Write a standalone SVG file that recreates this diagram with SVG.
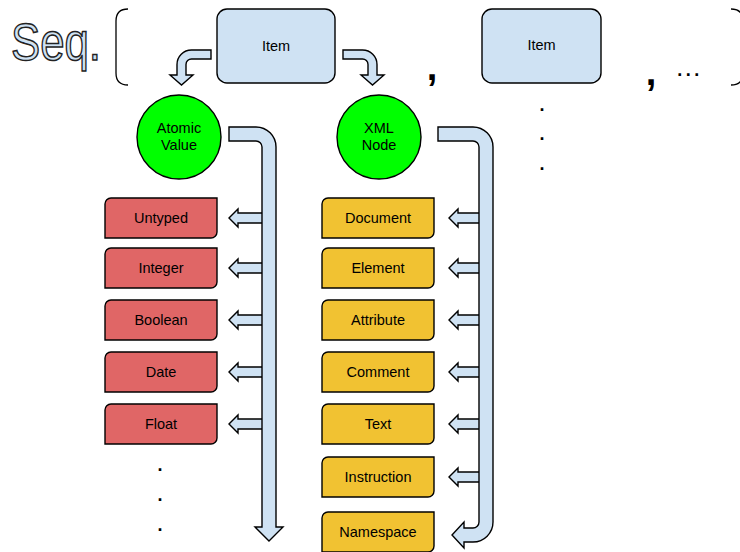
<svg xmlns="http://www.w3.org/2000/svg" xmlns:xlink="http://www.w3.org/1999/xlink" width="740" height="552" viewBox="0 0 740 552">
  <style>
    text { font-family: "Liberation Sans", Arial, sans-serif; fill: #000; }
    .lbl { font-size: 14.5px; text-anchor: middle; }
    .item { fill: #cfe2f3; stroke: #000; stroke-width: 1.4; }
    .circ { fill: #00ff00; stroke: #000; stroke-width: 1.4; }
    .red { fill: #e06666; stroke: #000; stroke-width: 1.4; }
    .yel { fill: #f1c232; stroke: #000; stroke-width: 1.4; }
    .arrow { fill: #cfe2f3; stroke: #000; stroke-width: 1.4; stroke-linejoin: miter; }
    .brace { fill: none; stroke: #000; stroke-width: 1.3; }
    .seq { font-size: 51px; fill: #cfe2f3; stroke: #222; stroke-width: 1.5; }
    .comma { font-size: 38px; font-weight: bold; text-anchor: middle; }
    .dot { font-size: 18px; font-weight: bold; text-anchor: middle; }
  </style>
  <defs>
    <!-- rectangle with rounded top-left and bottom-right corners -->
    <path id="box" d="M6,0 H112 V34 A6,6 0 0 1 106,40 H0 V6 A6,6 0 0 1 6,0 Z"/>
    <!-- short left-pointing arrows, tip at origin -->
    <path id="arrL" d="M0,0 L9,-9 V-5 H34 V5 H9 V9 Z"/>
    <path id="arrR" d="M0,0 L9,-9 V-5 H31 V5 H9 V9 Z"/>
  </defs>

  <!-- sequence label and brackets -->
  <text class="seq" x="11" y="60" textLength="90" lengthAdjust="spacingAndGlyphs">Seq.</text>
  <path class="brace" d="M128,9 Q116,9 116,21 V73 Q116,85 128,85"/>
  <path class="brace" d="M731,9 Q743,9 743,21 V73 Q743,85 731,85"/>
  <text class="comma" x="432" y="80">,</text>
  <text class="comma" x="651" y="85">,</text>
  <text class="dot" x="690" y="76" letter-spacing="3.5">...</text>
  <text class="dot" x="542" y="111">.</text>
  <text class="dot" x="542" y="140">.</text>
  <text class="dot" x="542" y="170">.</text>
  <text class="dot" x="160" y="471">.</text>
  <text class="dot" x="160" y="501">.</text>
  <text class="dot" x="160" y="531">.</text>

  <!-- connectors -->
  <g id="connectors">
    <path class="arrow" d="M211,50 H191.5 A14.5,14.5 0 0 0 177,64.5 V75 H170 L181.5,85 L193,75 H186 V64.5 A5.5,5.5 0 0 1 191.5,59 H211 Z"/>
    <path class="arrow" d="M343,50 H362.5 A14.5,14.5 0 0 1 377,64.5 V75 H384 L372.5,85 L361,75 H368 V64.5 A5.5,5.5 0 0 0 362.5,59 H343 Z"/>
    <use href="#arrL" class="arrow" x="229" y="218"/>
    <use href="#arrL" class="arrow" x="229" y="268"/>
    <use href="#arrL" class="arrow" x="229" y="320"/>
    <use href="#arrL" class="arrow" x="229" y="372"/>
    <use href="#arrL" class="arrow" x="229" y="424"/>
    <use href="#arrR" class="arrow" x="449" y="218"/>
    <use href="#arrR" class="arrow" x="449" y="268"/>
    <use href="#arrR" class="arrow" x="449" y="320"/>
    <use href="#arrR" class="arrow" x="449" y="372"/>
    <use href="#arrR" class="arrow" x="449" y="424"/>
    <use href="#arrR" class="arrow" x="449" y="477"/>
    <path class="arrow" d="M229,127 H256 A20,20 0 0 1 276,147 V527 H283 L269,541 L255,527 H262 V147 A6,6 0 0 0 256,141 H229 Z"/>
    <path class="arrow" d="M438,127 H473 A20,20 0 0 1 493,147 V522 A20,20 0 0 1 473,542 H464 V548 L452,535 L464,522 V528 H473 A6,6 0 0 0 479,522 V147 A6,6 0 0 0 473,141 H438 Z"/>
  </g>

  <!-- items -->
  <g id="item1">
    <rect class="item" x="217" y="9" width="118" height="74" rx="10"/>
    <text class="lbl" x="276" y="51">Item</text>
  </g>
  <g id="item2">
    <rect class="item" x="482" y="9" width="119" height="74" rx="10"/>
    <text class="lbl" x="541.5" y="50">Item</text>
  </g>

  <!-- kinds of item -->
  <g id="atomic">
    <circle class="circ" cx="179" cy="137" r="42"/>
    <text class="lbl" x="179" y="133">Atomic</text>
    <text class="lbl" x="179" y="150">Value</text>
  </g>
  <g id="xmlnode">
    <circle class="circ" cx="379" cy="137" r="42"/>
    <text class="lbl" x="379" y="133">XML</text>
    <text class="lbl" x="379" y="150">Node</text>
  </g>

  <!-- atomic types -->
  <g id="untyped"><use href="#box" class="red" x="105" y="198"/><text class="lbl" x="161" y="223">Untyped</text></g>
  <g id="integer"><use href="#box" class="red" x="105" y="248"/><text class="lbl" x="161" y="273">Integer</text></g>
  <g id="boolean"><use href="#box" class="red" x="105" y="300"/><text class="lbl" x="161" y="325">Boolean</text></g>
  <g id="date"><use href="#box" class="red" x="105" y="352"/><text class="lbl" x="161" y="377">Date</text></g>
  <g id="float"><use href="#box" class="red" x="105" y="404"/><text class="lbl" x="161" y="429">Float</text></g>

  <!-- node kinds -->
  <g id="document"><use href="#box" class="yel" x="322" y="198"/><text class="lbl" x="378" y="223">Document</text></g>
  <g id="element"><use href="#box" class="yel" x="322" y="248"/><text class="lbl" x="378" y="273">Element</text></g>
  <g id="attribute"><use href="#box" class="yel" x="322" y="300"/><text class="lbl" x="378" y="325">Attribute</text></g>
  <g id="comment"><use href="#box" class="yel" x="322" y="352"/><text class="lbl" x="378" y="377">Comment</text></g>
  <g id="textnode"><use href="#box" class="yel" x="322" y="404"/><text class="lbl" x="378" y="429">Text</text></g>
  <g id="instruction"><use href="#box" class="yel" x="322" y="457"/><text class="lbl" x="378" y="482">Instruction</text></g>
  <g id="namespace"><use href="#box" class="yel" x="322" y="512"/><text class="lbl" x="378" y="537">Namespace</text></g>
</svg>
